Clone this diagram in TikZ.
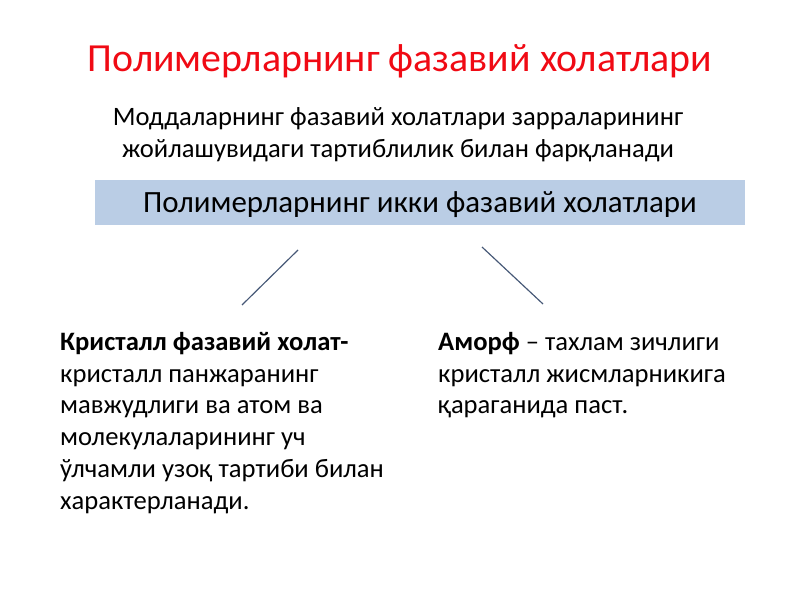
\documentclass[tikz,border=0pt]{standalone}
\usepackage{fontspec}
\setmainfont{Carlito}
\usepackage{xcolor}
\definecolor{titlered}{RGB}{240,10,20}
\definecolor{bandblue}{RGB}{186,205,229}
\definecolor{linegray}{RGB}{70,88,118}
\tikzset{
  bodytext/.style={anchor=north west, inner sep=0pt, align=left,
    font=\fontsize{22.7}{27.1}\selectfont},
  stroke/.style={draw=linegray, line width=1pt}
}

\begin{document}
\begin{tikzpicture}[x=0.03cm,y=-0.03cm]
\useasboundingbox (0,0) rectangle (800,600);
\node[anchor=base, text=titlered, inner sep=0pt, font=\fontsize{34}{40}\selectfont] (T) at (400,72) {Полимерларнинг фазавий холатлари};
\node[anchor=north, inner sep=0pt, align=center, font=\fontsize{22.7}{27.2}\selectfont] (S) at (398,107) {Моддаларнинг фазавий холатлари зарраларининг\\ жойлашувидаги тартиблилик билан фарқланади};
\fill[bandblue] (95,180) rectangle (745,225);
\node[inner sep=0pt, font=\fontsize{26.4}{30}\selectfont] (B) at (420,205) {Полимерларнинг икки фазавий холатлари};
\coordinate (L1) at (298,250);
\coordinate (L2) at (242,305);
\coordinate (R1) at (482,247);
\coordinate (R2) at (543,304);
\draw[stroke] (L1) -- (L2);
\draw[stroke] (R1) -- (R2);
\node[bodytext] (K) at (60,332) {\textbf{Кристалл фазавий холат-}\\кристалл панжаранинг\\мавжудлиги ва атом ва\\молекулаларининг уч\\ўлчамли узоқ тартиби билан\\характерланади.};
\node[bodytext] (A) at (438,332) {\textbf{Аморф} -- тахлам зичлиги\\кристалл жисмларникига\\қараганида паст.};
\end{tikzpicture}
\end{document}
